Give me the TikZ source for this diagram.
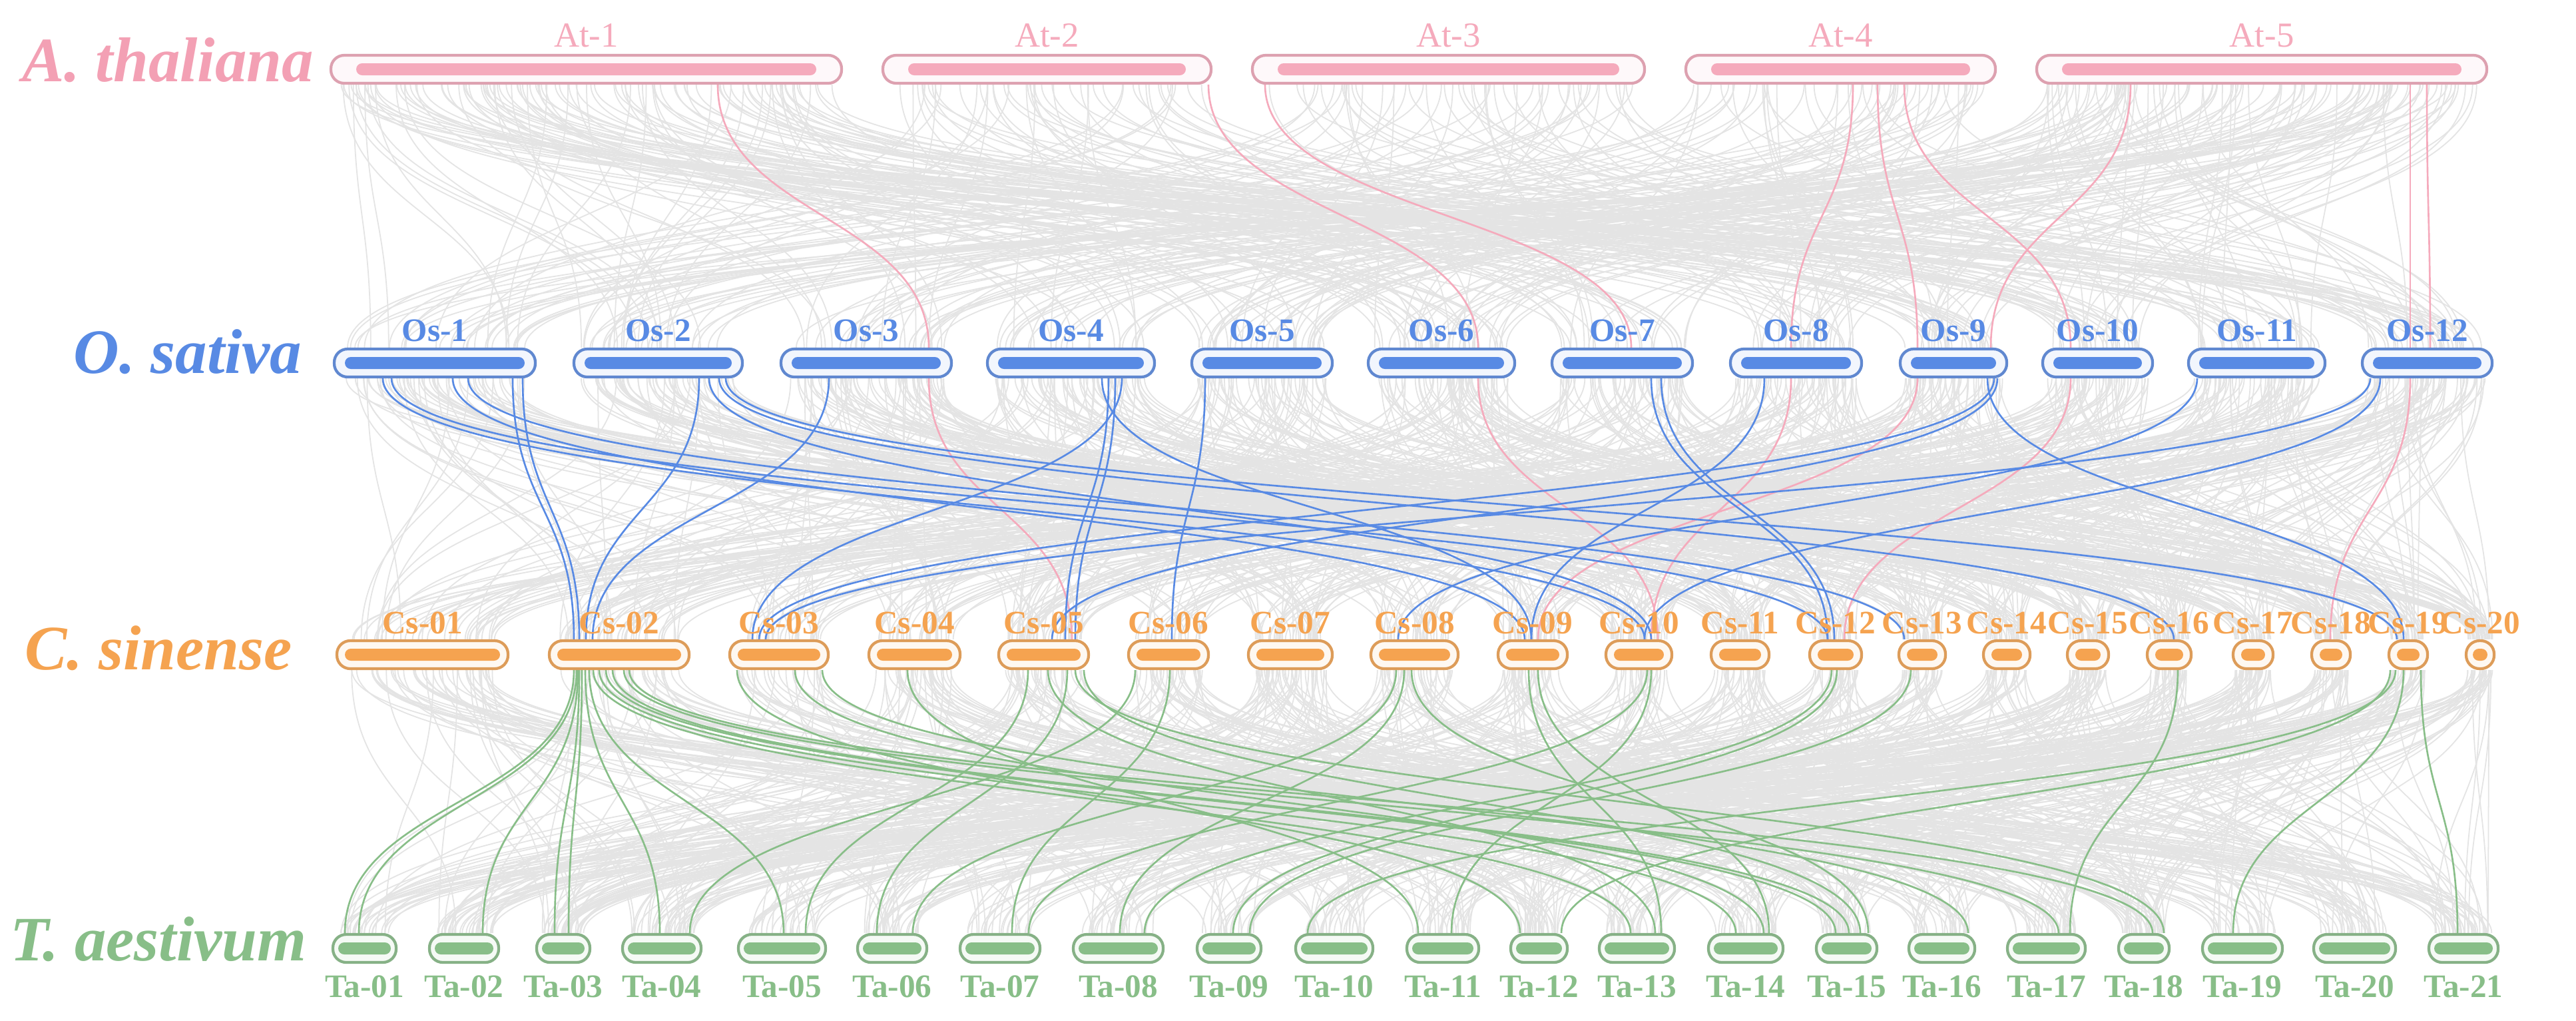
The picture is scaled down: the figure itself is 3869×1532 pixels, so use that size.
\documentclass[tikz,border=0pt]{standalone}
\usepackage{fontspec}
\setmainfont{Liberation Serif}
\usetikzlibrary{calc}
\definecolor{atc}{RGB}{245,170,188}
\definecolor{atlab}{RGB}{243,160,180}
\definecolor{osc}{RGB}{88,138,228}
\definecolor{csc}{RGB}{245,163,80}
\definecolor{tac}{RGB}{136,190,136}
\definecolor{gl}{RGB}{228,228,228}
\pgfdeclarelayer{bg}
\pgfsetlayers{bg,main}
\tikzset{
  outerbox/.style={rectangle, rounded corners=0.2cm, minimum height=0.42cm, inner sep=0pt, line width=1.2pt},
  greyl/.style={draw=gl, line width=0.5pt},
  pinkl/.style={draw=atc, line width=0.75pt},
  bluel/.style={draw=osc, line width=0.75pt},
  greenl/.style={draw=tac, line width=0.75pt},
  chrlab/.style={font=\fontsize{14}{16}\selectfont\bfseries, anchor=base, inner sep=0pt},
  splab/.style={font=\fontsize{27}{30}\selectfont\bfseries\itshape, anchor=base, inner sep=0pt}
}
% name, x1, x2, yc, colour, inset, label y, label text
\newcommand\chrbar[8]{%
  \node[outerbox, draw=#5!80!gray, fill=#5!8, minimum width={(#3-#2)*0.01cm}] (#1) at ({(#2+#3)/2},#4) {};
  \fill[#5, rounded corners=0.09cm] ({#2+#6},{#4-9}) rectangle ({#3-#6},{#4+9});
  \node[chrlab, text=#5] (#1l) at ({(#2+#3)/2},#7) {#8};
}
\newcommand\synline[5]{%
  \draw[#5] let \p1=(#1.south -| #2,0), \p2=(#3.north -| #4,0) in
    (\p1) .. controls (\x1,{0.5*(\y1+\y2)}) and (\x2,{0.5*(\y1+\y2)}) .. (\p2);
}
\begin{document}
\begin{tikzpicture}[x=0.01cm,y=-0.01cm]
\useasboundingbox (0,0) rectangle (3869,1532);

% species labels
\node[splab, text=atlab] (spAt) at (252,122) {A. thaliana};
\node[splab, text=osc] (spOs) at (282,560) {O. sativa};
\node[splab, text=csc] (spCs) at (238,1005) {C. sinense};
\node[splab, text=tac] (spTa) at (238,1442) {T. aestivum};

% A. thaliana
\tikzset{chrlab/.append style={font=\fontsize{15}{17}\selectfont}}
\chrbar{At1}{497}{1264}{104}{atc}{38}{70}{At-1}
\chrbar{At2}{1326}{1819}{104}{atc}{38}{70}{At-2}
\chrbar{At3}{1881}{2470}{104}{atc}{38}{70}{At-3}
\chrbar{At4}{2532}{2997}{104}{atc}{38}{70}{At-4}
\chrbar{At5}{3059}{3735}{104}{atc}{38}{70}{At-5}
\tikzset{chrlab/.append style={font=\fontsize{14}{16}\selectfont\bfseries}}
% O. sativa
\chrbar{Os1}{502}{804}{545}{osc}{16}{512}{Os-1}
\chrbar{Os2}{862}{1115}{545}{osc}{16}{512}{Os-2}
\chrbar{Os3}{1173}{1429}{545}{osc}{16}{512}{Os-3}
\chrbar{Os4}{1483}{1734}{545}{osc}{16}{512}{Os-4}
\chrbar{Os5}{1790}{2001}{545}{osc}{16}{512}{Os-5}
\chrbar{Os6}{2055}{2275}{545}{osc}{16}{512}{Os-6}
\chrbar{Os7}{2331}{2542}{545}{osc}{16}{512}{Os-7}
\chrbar{Os8}{2599}{2796}{545}{osc}{16}{512}{Os-8}
\chrbar{Os9}{2854}{3014}{545}{osc}{16}{512}{Os-9}
\chrbar{Os10}{3068}{3233}{545}{osc}{16}{512}{Os-10}
\chrbar{Os11}{3287}{3492}{545}{osc}{16}{512}{Os-11}
\chrbar{Os12}{3548}{3743}{545}{osc}{16}{512}{Os-12}
% C. sinense
\chrbar{Cs01}{506}{763}{983}{csc}{12}{951}{Cs-01}
\chrbar{Cs02}{825}{1035}{983}{csc}{12}{951}{Cs-02}
\chrbar{Cs03}{1096}{1244}{983}{csc}{12}{951}{Cs-03}
\chrbar{Cs04}{1305}{1442}{983}{csc}{12}{951}{Cs-04}
\chrbar{Cs05}{1500}{1635}{983}{csc}{12}{951}{Cs-05}
\chrbar{Cs06}{1695}{1815}{983}{csc}{12}{951}{Cs-06}
\chrbar{Cs07}{1875}{2001}{983}{csc}{12}{951}{Cs-07}
\chrbar{Cs08}{2059}{2190}{983}{csc}{12}{951}{Cs-08}
\chrbar{Cs09}{2250}{2354}{983}{csc}{12}{951}{Cs-09}
\chrbar{Cs10}{2412}{2511}{983}{csc}{12}{951}{Cs-10}
\chrbar{Cs11}{2570}{2657}{983}{csc}{12}{951}{Cs-11}
\chrbar{Cs12}{2718}{2796}{983}{csc}{12}{951}{Cs-12}
\chrbar{Cs13}{2852}{2922}{983}{csc}{12}{951}{Cs-13}
\chrbar{Cs14}{2979}{3049}{983}{csc}{12}{951}{Cs-14}
\chrbar{Cs15}{3105}{3167}{983}{csc}{12}{951}{Cs-15}
\chrbar{Cs16}{3225}{3291}{983}{csc}{12}{951}{Cs-16}
\chrbar{Cs17}{3354}{3414}{983}{csc}{12}{951}{Cs-17}
\chrbar{Cs18}{3472}{3530}{983}{csc}{12}{951}{Cs-18}
\chrbar{Cs19}{3588}{3646}{983}{csc}{12}{951}{Cs-19}
\chrbar{Cs20}{3704}{3746}{983}{csc}{10}{951}{Cs-20}
% T. aestivum
\chrbar{Ta01}{500}{595}{1424}{tac}{8}{1497}{Ta-01}
\chrbar{Ta02}{645}{749}{1424}{tac}{8}{1497}{Ta-02}
\chrbar{Ta03}{806}{886}{1424}{tac}{8}{1497}{Ta-03}
\chrbar{Ta04}{935}{1053}{1424}{tac}{8}{1497}{Ta-04}
\chrbar{Ta05}{1109}{1240}{1424}{tac}{8}{1497}{Ta-05}
\chrbar{Ta06}{1288}{1392}{1424}{tac}{8}{1497}{Ta-06}
\chrbar{Ta07}{1442}{1562}{1424}{tac}{8}{1497}{Ta-07}
\chrbar{Ta08}{1612}{1747}{1424}{tac}{8}{1497}{Ta-08}
\chrbar{Ta09}{1798}{1894}{1424}{tac}{8}{1497}{Ta-09}
\chrbar{Ta10}{1946}{2062}{1424}{tac}{8}{1497}{Ta-10}
\chrbar{Ta11}{2113}{2221}{1424}{tac}{8}{1497}{Ta-11}
\chrbar{Ta12}{2269}{2354}{1424}{tac}{8}{1497}{Ta-12}
\chrbar{Ta13}{2402}{2515}{1424}{tac}{8}{1497}{Ta-13}
\chrbar{Ta14}{2566}{2678}{1424}{tac}{8}{1497}{Ta-14}
\chrbar{Ta15}{2728}{2819}{1424}{tac}{8}{1497}{Ta-15}
\chrbar{Ta16}{2867}{2966}{1424}{tac}{8}{1497}{Ta-16}
\chrbar{Ta17}{3015}{3132}{1424}{tac}{8}{1497}{Ta-17}
\chrbar{Ta18}{3182}{3258}{1424}{tac}{8}{1497}{Ta-18}
\chrbar{Ta19}{3308}{3428}{1424}{tac}{8}{1497}{Ta-19}
\chrbar{Ta20}{3475}{3598}{1424}{tac}{8}{1497}{Ta-20}
\chrbar{Ta21}{3648}{3752}{1424}{tac}{8}{1497}{Ta-21}

\begin{pgfonlayer}{bg}
\fill[white] (0,0) rectangle (3869,1532);
\pgfmathsetseed{4711}
\pgfmathdeclarerandomlist{atlist}{{At1}{At1}{At2}{At3}{At4}{At5}{At5}}
\pgfmathdeclarerandomlist{oslist}{{Os1}{Os2}{Os3}{Os4}{Os5}{Os6}{Os7}{Os8}{Os9}{Os10}{Os11}{Os12}}
\pgfmathdeclarerandomlist{cslist}{{Cs01}{Cs02}{Cs03}{Cs04}{Cs05}{Cs06}{Cs07}{Cs08}{Cs09}{Cs10}{Cs11}{Cs12}{Cs13}{Cs14}{Cs15}{Cs16}{Cs17}{Cs18}{Cs19}{Cs20}}
\pgfmathdeclarerandomlist{talist}{{Ta01}{Ta02}{Ta03}{Ta04}{Ta05}{Ta06}{Ta07}{Ta08}{Ta09}{Ta10}{Ta11}{Ta12}{Ta13}{Ta14}{Ta15}{Ta16}{Ta17}{Ta18}{Ta19}{Ta20}{Ta21}}
\foreach \i in {1,...,400}{
  \pgfmathrandomitem{\srcn}{atlist}\pgfmathrandomitem{\tgtn}{oslist}
  \pgfmathsetmacro{\fra}{0.02+0.96*rnd}\pgfmathsetmacro{\frb}{0.05+0.9*rnd}
  \draw[greyl] let \p1=($(\srcn.south west)!\fra!(\srcn.south east)$), \p2=($(\tgtn.north west)!\frb!(\tgtn.north east)$) in
    (\p1) .. controls (\x1,{0.5*(\y1+\y2)}) and (\x2,{0.5*(\y1+\y2)}) .. (\p2);
}
\foreach \i in {1,...,750}{
  \pgfmathrandomitem{\srcn}{oslist}\pgfmathrandomitem{\tgtn}{cslist}
  \pgfmathsetmacro{\fra}{0.05+0.9*rnd}\pgfmathsetmacro{\frb}{0.08+0.84*rnd}
  \draw[greyl] let \p1=($(\srcn.south west)!\fra!(\srcn.south east)$), \p2=($(\tgtn.north west)!\frb!(\tgtn.north east)$) in
    (\p1) .. controls (\x1,{0.5*(\y1+\y2)}) and (\x2,{0.5*(\y1+\y2)}) .. (\p2);
}
\foreach \i in {1,...,700}{
  \pgfmathrandomitem{\srcn}{cslist}\pgfmathrandomitem{\tgtn}{talist}
  \pgfmathsetmacro{\fra}{0.08+0.84*rnd}\pgfmathsetmacro{\frb}{0.1+0.8*rnd}
  \draw[greyl] let \p1=($(\srcn.south west)!\fra!(\srcn.south east)$), \p2=($(\tgtn.north west)!\frb!(\tgtn.north east)$) in
    (\p1) .. controls (\x1,{0.5*(\y1+\y2)}) and (\x2,{0.5*(\y1+\y2)}) .. (\p2);
}

% pink: A. thaliana -> O. sativa -> C. sinense
\synline{At1}{1078}{Os3}{1395}{pinkl}
\synline{At2}{1815}{Os6}{2220}{pinkl}
\synline{At3}{1900}{Os7}{2450}{pinkl}
\synline{At4}{2783}{Os8}{2690}{pinkl}
\synline{At4}{2820}{Os9}{2880}{pinkl}
\synline{At4}{2860}{Os10}{3110}{pinkl}
\synline{At5}{3200}{Os9}{2990}{pinkl}
\synline{At5}{3620}{Os12}{3620}{pinkl}
\synline{At5}{3645}{Os12}{3650}{pinkl}
\synline{Os3}{1395}{Cs05}{1610}{pinkl}
\synline{Os6}{2220}{Cs10}{2490}{pinkl}
\synline{Os8}{2690}{Cs10}{2480}{pinkl}
\synline{Os9}{2880}{Cs09}{2310}{pinkl}
\synline{Os10}{3110}{Cs12}{2770}{pinkl}
\synline{Os12}{3620}{Cs18}{3500}{pinkl}

% blue: O. sativa -> C. sinense
\synline{Os1}{575}{Cs10}{2470}{bluel}
\synline{Os1}{588}{Cs12}{2745}{bluel}
\synline{Os1}{680}{Cs09}{2290}{bluel}
\synline{Os1}{703}{Cs13}{2860}{bluel}
\synline{Os1}{770}{Cs02}{862}{bluel}
\synline{Os1}{785}{Cs02}{870}{bluel}
\synline{Os2}{1050}{Cs02}{880}{bluel}
\synline{Os2}{1065}{Cs10}{2480}{bluel}
\synline{Os2}{1080}{Cs16}{3265}{bluel}
\synline{Os2}{1090}{Cs19}{3600}{bluel}
\synline{Os3}{1245}{Cs02}{890}{bluel}
\synline{Os4}{1665}{Cs05}{1600}{bluel}
\synline{Os4}{1675}{Cs05}{1615}{bluel}
\synline{Os4}{1685}{Cs03}{1130}{bluel}
\synline{Os4}{1655}{Cs09}{2300}{bluel}
\synline{Os5}{1810}{Cs06}{1760}{bluel}
\synline{Os7}{2480}{Cs12}{2745}{bluel}
\synline{Os7}{2495}{Cs12}{2755}{bluel}
\synline{Os8}{2650}{Cs09}{2300}{bluel}
\synline{Os9}{2995}{Cs03}{1140}{bluel}
\synline{Os9}{3000}{Cs05}{1580}{bluel}
\synline{Os9}{2985}{Cs19}{3610}{bluel}
\synline{Os11}{3300}{Cs08}{2100}{bluel}
\synline{Os12}{3560}{Cs03}{1150}{bluel}
\synline{Os12}{3575}{Cs10}{2470}{bluel}

% green: C. sinense -> T. aestivum
\synline{Cs02}{862}{Ta01}{518}{greenl}
\synline{Cs02}{866}{Ta01}{539}{greenl}
\synline{Cs02}{868}{Ta02}{725}{greenl}
\synline{Cs02}{870}{Ta03}{833}{greenl}
\synline{Cs02}{874}{Ta03}{854}{greenl}
\synline{Cs02}{879}{Ta04}{991}{greenl}
\synline{Cs02}{885}{Ta05}{1177}{greenl}
\synline{Cs02}{891}{Ta13}{2449}{greenl}
\synline{Cs02}{900}{Ta14}{2607}{greenl}
\synline{Cs02}{910}{Ta15}{2757}{greenl}
\synline{Cs02}{920}{Ta15}{2777}{greenl}
\synline{Cs02}{937}{Ta17}{3092}{greenl}
\synline{Cs02}{945}{Ta18}{3233}{greenl}
\synline{Cs03}{1107}{Ta12}{2283}{greenl}
\synline{Cs03}{1194}{Ta14}{2649}{greenl}
\synline{Cs03}{1235}{Ta16}{2956}{greenl}
\synline{Cs04}{1363}{Ta11}{2130}{greenl}
\synline{Cs05}{1544}{Ta05}{1210}{greenl}
\synline{Cs05}{1574}{Ta13}{2486}{greenl}
\synline{Cs05}{1603}{Ta06}{1317}{greenl}
\synline{Cs05}{1628}{Ta15}{2794}{greenl}
\synline{Cs05}{1615}{Ta18}{3250}{greenl}
\synline{Cs06}{1705}{Ta04}{1036}{greenl}
\synline{Cs06}{1757}{Ta07}{1520}{greenl}
\synline{Cs08}{2097}{Ta06}{1371}{greenl}
\synline{Cs08}{2109}{Ta08}{1682}{greenl}
\synline{Cs08}{2120}{Ta15}{2806}{greenl}
\synline{Cs09}{2296}{Ta13}{2495}{greenl}
\synline{Cs09}{2310}{Ta14}{2657}{greenl}
\synline{Cs10}{2474}{Ta07}{1545}{greenl}
\synline{Cs10}{2480}{Ta11}{2180}{greenl}
\synline{Cs12}{2751}{Ta08}{1719}{greenl}
\synline{Cs12}{2759}{Ta09}{1852}{greenl}
\synline{Cs13}{2870}{Ta09}{1877}{greenl}
\synline{Cs16}{3271}{Ta17}{3109}{greenl}
\synline{Cs19}{3590}{Ta12}{2345}{greenl}
\synline{Cs19}{3598}{Ta10}{1964}{greenl}
\synline{Cs19}{3610}{Ta19}{3354}{greenl}
\synline{Cs19}{3636}{Ta21}{3691}{greenl}
\end{pgfonlayer}
\end{tikzpicture}
\end{document}
